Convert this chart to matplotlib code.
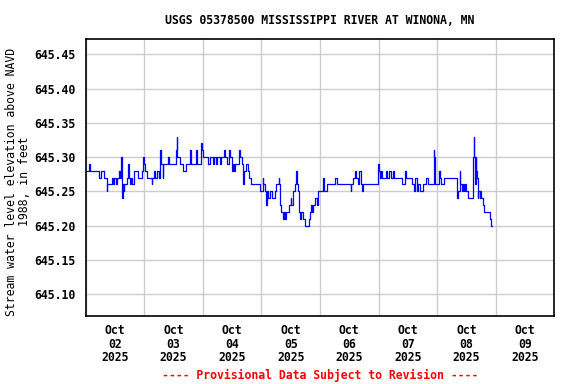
import datetime as dt

import matplotlib
matplotlib.use("Agg")
import matplotlib.pyplot as plt
import matplotlib.dates as mdates
import matplotlib.ticker as mticker

# step changes of the gage height: hours after 2025-10-02 00:00, elevation (ft)
hours = [
    0.0, 1.5, 1.6, 5.5, 6.4, 7.6, 8.6, 8.9, 10.9, 11.3, 11.7, 12.4, 13.0, 13.8,
    14.1, 14.6, 14.7, 15.0, 15.2, 15.6, 15.8, 16.8, 17.5, 17.7, 18.2, 18.6, 19.1,
    19.8, 21.6, 22.9, 23.6, 23.9, 24.4, 25.0, 27.0, 27.3, 28.0, 28.5, 29.3, 29.9,
    30.4, 30.7, 31.5, 31.8, 33.9, 34.1, 36.9, 37.3, 37.5, 38.6, 40.0, 41.1, 42.7,
    43.0, 45.2, 45.5, 47.2, 47.5, 47.9, 50.2, 50.9, 52.3, 52.7, 53.4, 53.9, 55.0,
    55.6, 56.8, 57.2, 57.7, 58.8, 59.1, 59.8, 60.2, 60.8, 61.2, 62.9, 63.3, 64.0,
    64.6, 64.8, 65.7, 66.3, 67.0, 67.7, 71.4, 72.5, 72.8, 73.4, 73.8, 74.1, 74.8,
    75.5, 76.2, 77.5, 78.1, 79.1, 79.2, 79.5, 80.1, 80.8, 81.2, 81.6, 82.2, 83.5,
    84.0, 84.3, 84.9, 85.6, 86.3, 86.5, 86.9, 87.3, 87.9, 88.3, 89.0, 90.0, 91.4,
    91.9, 92.3, 92.7, 93.3, 94.1, 94.6, 95.0, 95.9, 97.1, 97.5, 98.7, 102.2,
    102.8, 108.6, 108.9, 109.6, 110.4, 110.8, 111.4, 112.0, 112.6, 113.4, 113.8,
    119.5, 119.8, 120.1, 120.7, 121.1, 121.5, 122.9, 123.4, 124.2, 124.9, 125.8,
    126.4, 129.6, 131.0, 131.4, 133.7, 134.4, 135.1, 135.8, 136.2, 136.9, 138.3,
    139.3, 140.3, 142.6, 142.9, 143.2, 144.8, 145.1, 145.6, 146.7, 152.2, 152.7,
    153.3, 153.5, 154.1, 154.6, 155.2, 155.5, 156.0, 156.5, 158.6, 159.0, 159.3,
    159.5, 159.8, 160.1, 160.4, 160.6, 160.9, 161.5, 161.7, 162.1, 162.6, 163.4,
    165.7, 166.2, 166.5,
]
level = [
    645.28, 645.29, 645.28, 645.27, 645.28, 645.27, 645.25, 645.26, 645.27, 645.26,
    645.27, 645.26, 645.27, 645.28, 645.27, 645.30, 645.27, 645.24, 645.26, 645.25,
    645.26, 645.27, 645.29, 645.27, 645.26, 645.27, 645.26, 645.28, 645.27, 645.28,
    645.30, 645.29, 645.28, 645.27, 645.26, 645.27, 645.28, 645.27, 645.28, 645.27,
    645.31, 645.29, 645.27, 645.29, 645.30, 645.29, 645.31, 645.33, 645.30, 645.29,
    645.28, 645.29, 645.31, 645.29, 645.31, 645.29, 645.32, 645.31, 645.30, 645.29,
    645.30, 645.29, 645.30, 645.29, 645.30, 645.29, 645.30, 645.31, 645.30, 645.29,
    645.31, 645.30, 645.28, 645.29, 645.28, 645.29, 645.31, 645.30, 645.29, 645.26,
    645.28, 645.29, 645.28, 645.27, 645.26, 645.25, 645.27, 645.26, 645.25, 645.23,
    645.25, 645.24, 645.25, 645.24, 645.25, 645.26, 645.27, 645.26, 645.23, 645.22,
    645.21, 645.22, 645.21, 645.22, 645.23, 645.24, 645.23, 645.25, 645.26, 645.28,
    645.26, 645.25, 645.22, 645.21, 645.22, 645.21, 645.20, 645.21, 645.22, 645.23,
    645.22, 645.23, 645.24, 645.23, 645.25, 645.25, 645.27, 645.25, 645.26, 645.27,
    645.26, 645.25, 645.26, 645.27, 645.28, 645.27, 645.26, 645.28, 645.26, 645.25,
    645.26, 645.26, 645.29, 645.28, 645.27, 645.28, 645.27, 645.28, 645.27, 645.28,
    645.27, 645.28, 645.27, 645.26, 645.28, 645.27, 645.26, 645.25, 645.27, 645.25,
    645.26, 645.25, 645.26, 645.27, 645.26, 645.31, 645.30, 645.26, 645.28, 645.27,
    645.26, 645.27, 645.24, 645.25, 645.28, 645.26, 645.25, 645.26, 645.25, 645.26,
    645.25, 645.24, 645.30, 645.33, 645.30, 645.26, 645.30, 645.28, 645.27, 645.24,
    645.25, 645.24, 645.25, 645.24, 645.23, 645.22, 645.21, 645.20, 645.20,
]

title = "USGS 05378500 MISSISSIPPI RIVER AT WINONA, MN"
ylabel = "Stream water level elevation above NAVD\n1988, in feet"
footer = "---- Provisional Data Subject to Revision ----"
yticks = [645.10, 645.15, 645.20, 645.25, 645.30, 645.35, 645.40, 645.45]

start = dt.datetime(2025, 10, 2)
times = [start + dt.timedelta(hours=h) for h in hours]

plt.rcParams["font.family"] = "DejaVu Sans Mono"
plt.rcParams["font.weight"] = "bold"
fs = 8.3

fig = plt.figure(figsize=(5.76, 3.84), dpi=100)
ax = fig.add_axes([0.1488, 0.1771, 0.8135, 0.7206])

ax.plot(times, level, drawstyle="steps-post", color="#0000ff", linewidth=0.9, zorder=3)

ax.set_xlim(start, start + dt.timedelta(days=8))
ax.set_ylim(645.068, 645.472)

# gridlines at midnight, date labels at noon
ax.xaxis.set_major_locator(mdates.DayLocator())
ax.xaxis.set_major_formatter(mticker.NullFormatter())
ax.xaxis.set_minor_locator(mdates.HourLocator(byhour=[12]))
ax.xaxis.set_minor_formatter(mdates.DateFormatter("%b\n%d\n%Y"))
ax.tick_params(axis="x", which="both", length=0, pad=6)
ax.tick_params(axis="x", which="minor", labelsize=fs)
for lbl in ax.xaxis.get_minorticklabels():
    lbl.set_linespacing(1.05)

ax.set_yticks(yticks)
ax.yaxis.set_major_formatter(mticker.FormatStrFormatter("%.2f"))
ax.tick_params(axis="y", length=0, pad=7, labelsize=fs)

ax.grid(True, which="major", color="#cccccc", linewidth=1.0)
ax.set_axisbelow(True)
for s in ax.spines.values():
    s.set_linewidth(1.2)
    s.set_color("black")

ax.set_ylabel(ylabel, fontsize=fs, labelpad=2.5, linespacing=1.05)
ax.yaxis.label.set_y(0.485)
fig.text(0.555, 0.946, title, ha="center", va="center", fontsize=fs)
fig.text(0.555, 0.023, footer, ha="center", va="center", fontsize=fs, color="red")

fig.savefig("out.png", dpi=100)
